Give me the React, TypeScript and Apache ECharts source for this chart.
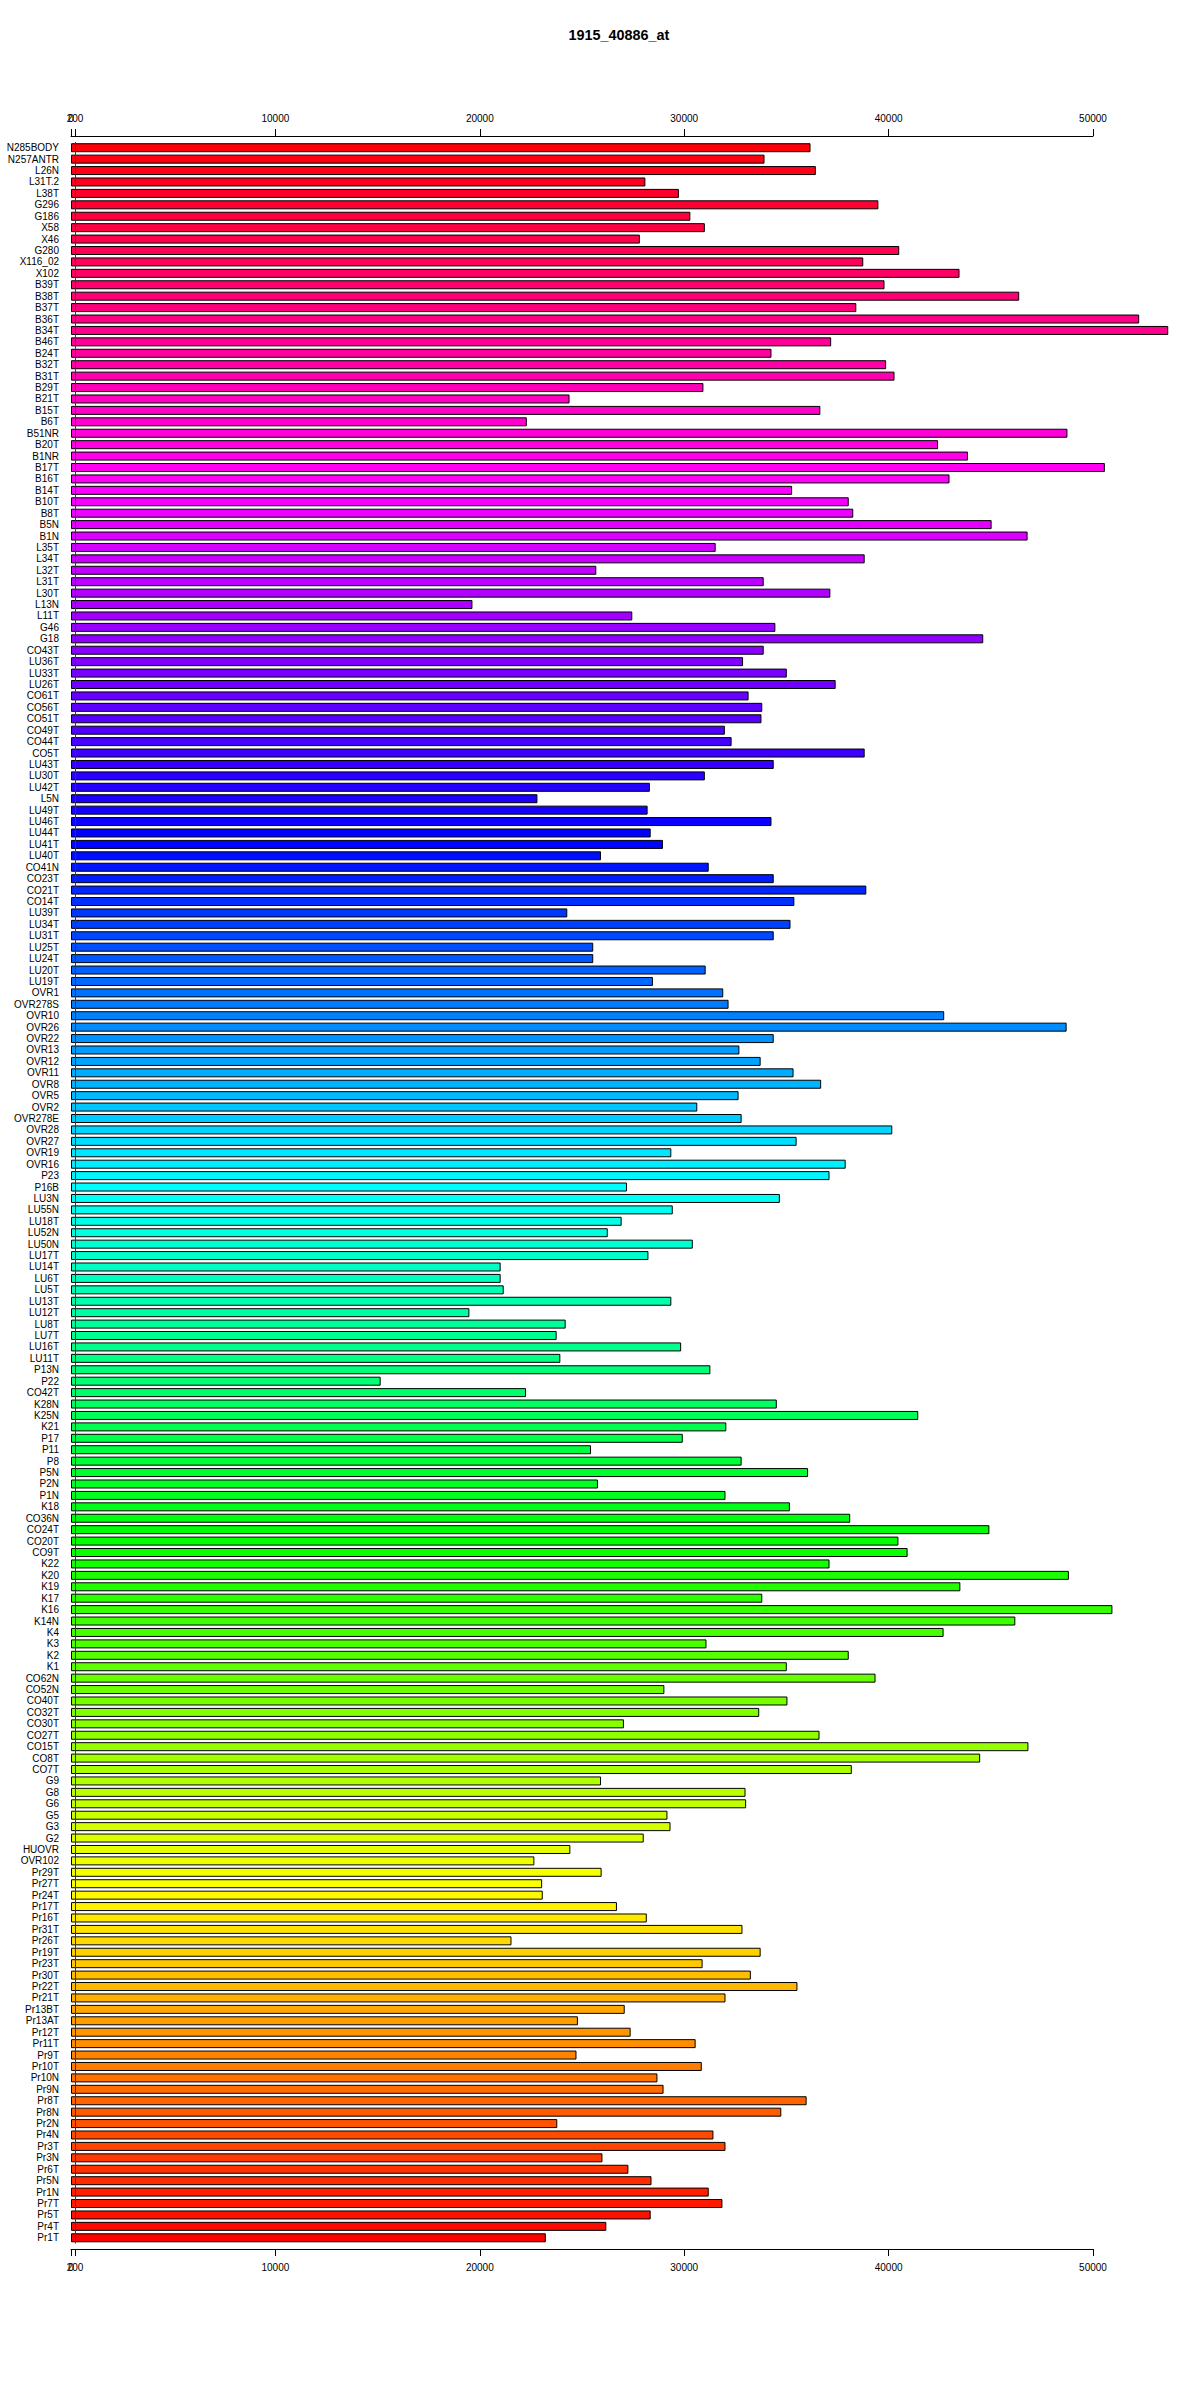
import React, { useEffect, useRef } from "react";
import * as echarts from "echarts";

const chartTitle = "1915_40886_at";

const categories = [
  "N285BODY", "N257ANTR", "L26N", "L31T.2", "L38T", "G296", "G186", "X58", "X46", "G280",
  "X116_02", "X102", "B39T", "B38T", "B37T", "B36T", "B34T", "B46T", "B24T", "B32T",
  "B31T", "B29T", "B21T", "B15T", "B6T", "B51NR", "B20T", "B1NR", "B17T", "B16T",
  "B14T", "B10T", "B8T", "B5N", "B1N", "L35T", "L34T", "L32T", "L31T", "L30T",
  "L13N", "L11T", "G46", "G18", "CO43T", "LU36T", "LU33T", "LU26T", "CO61T", "CO56T",
  "CO51T", "CO49T", "CO44T", "CO5T", "LU43T", "LU30T", "LU42T", "L5N", "LU49T", "LU46T",
  "LU44T", "LU41T", "LU40T", "CO41N", "CO23T", "CO21T", "CO14T", "LU39T", "LU34T", "LU31T",
  "LU25T", "LU24T", "LU20T", "LU19T", "OVR1", "OVR278S", "OVR10", "OVR26", "OVR22", "OVR13",
  "OVR12", "OVR11", "OVR8", "OVR5", "OVR2", "OVR278E", "OVR28", "OVR27", "OVR19", "OVR16",
  "P23", "P16B", "LU3N", "LU55N", "LU18T", "LU52N", "LU50N", "LU17T", "LU14T", "LU6T",
  "LU5T", "LU13T", "LU12T", "LU8T", "LU7T", "LU16T", "LU11T", "P13N", "P22", "CO42T",
  "K28N", "K25N", "K21", "P17", "P11", "P8", "P5N", "P2N", "P1N", "K18",
  "CO36N", "CO24T", "CO20T", "CO9T", "K22", "K20", "K19", "K17", "K16", "K14N",
  "K4", "K3", "K2", "K1", "CO62N", "CO52N", "CO40T", "CO32T", "CO30T", "CO27T",
  "CO15T", "CO8T", "CO7T", "G9", "G8", "G6", "G5", "G3", "G2", "HUOVR",
  "OVR102", "Pr29T", "Pr27T", "Pr24T", "Pr17T", "Pr16T", "Pr31T", "Pr26T", "Pr19T", "Pr23T",
  "Pr30T", "Pr22T", "Pr21T", "Pr13BT", "Pr13AT", "Pr12T", "Pr11T", "Pr9T", "Pr10T", "Pr10N",
  "Pr9N", "Pr8T", "Pr8N", "Pr2N", "Pr4N", "Pr3T", "Pr3N", "Pr6T", "Pr5N", "Pr1N",
  "Pr7T", "Pr5T", "Pr4T", "Pr1T",
];

const values = [
  36180, 33930, 36440, 28100, 29740, 39500, 30300, 31010, 27830, 40520,
  38760, 43470, 39800, 46390, 38420, 52260, 53680, 37190, 34270, 39880,
  40290, 30940, 24390, 36660, 22300, 48750, 42420, 43880, 50580, 42980,
  35280, 38050, 38270, 45040, 46800, 31540, 38830, 25700, 33890, 37150,
  19640, 27460, 34460, 44630, 33890, 32880, 35020, 37410, 33150, 33820,
  33780, 31990, 32320, 38830, 34380, 31010, 28320, 22820, 28210, 34270,
  28360, 28960, 25930, 31200, 34380, 38910, 35390, 24280, 35200, 34380,
  25550, 25550, 31050, 28470, 31910, 32170, 42720, 48710, 34380, 32700,
  33740, 35350, 36700, 32660, 30640, 32810, 40180, 35500, 29370, 37900,
  37110, 27200, 34680, 29440, 26940, 26260, 30420, 28250, 21020, 21020,
  21170, 29370, 19490, 24200, 23760, 29850, 23940, 31280, 15150, 22260,
  34530, 41450, 32060, 29930, 25440, 32810, 36060, 25780, 32020, 35170,
  38120, 44930, 40480, 40930, 37110, 48820, 43510, 33820, 50950, 46200,
  42690, 31090, 38050, 35020, 39360, 29030, 35050, 33670, 27050, 36620,
  46840, 44480, 38200, 25930, 33000, 33030, 29180, 29330, 28020, 24430,
  22670, 25960, 23050, 23080, 26710, 28170, 32850, 21550, 33740, 30900,
  33260, 35540, 32020, 27090, 24800, 27380, 30560, 24730, 30860, 28690,
  28990, 35990, 34750, 23790, 31430, 32020, 26000, 27270, 28400, 31200,
  31870, 28360, 26190, 23230,
];

const xTickValues = [0, 10000, 20000, 30000, 40000, 50000];
const xExtraTickValues = [200];
const referenceLineValue = 200;

function hsvToHex(h: number, s: number, v: number): string {
  const i = Math.floor(h * 6);
  const f = h * 6 - i;
  const p = v * (1 - s);
  const q = v * (1 - f * s);
  const t = v * (1 - (1 - f) * s);
  let r = 0, g = 0, b = 0;
  switch (((i % 6) + 6) % 6) {
    case 0: r = v; g = t; b = p; break;
    case 1: r = q; g = v; b = p; break;
    case 2: r = p; g = v; b = t; break;
    case 3: r = p; g = q; b = v; break;
    case 4: r = t; g = p; b = v; break;
    default: r = v; g = p; b = q; break;
  }
  const hx = (x: number) => Math.round(x * 255).toString(16).padStart(2, "0");
  return "#" + hx(r) + hx(g) + hx(b);
}

export default function App() {
  const ref = useRef<HTMLDivElement>(null);

  useEffect(() => {
    if (!ref.current) return;
    const chart = echarts.init(ref.current, null, { renderer: "svg" });
    const n = categories.length;
    const colors = categories.map((_, k) => hsvToHex((n - 1 - k) / n, 1, 1));
    const font = "'Liberation Sans', Arial, Helvetica, sans-serif";

    const makeXAxis = (
      position: "top" | "bottom",
      offset: number,
      ticks: number[],
      showLine: boolean
    ) => ({
      type: "value",
      gridIndex: 0,
      position,
      offset,
      min: 0,
      max: 50000,
      interval: 10000,
      axisLine: { show: showLine, onZero: false, lineStyle: { color: "#000", width: 1 } },
      axisTick: {
        show: true,
        inside: false,
        length: 7,
        customValues: ticks,
        lineStyle: { color: "#000", width: 1 },
      },
      axisLabel: {
        show: true,
        customValues: ticks,
        fontSize: 10,
        color: "#000",
        fontFamily: font,
        margin: 13,
        hideOverlap: false,
        showMinLabel: true,
        showMaxLabel: true,
        formatter: (v: number) => String(v),
      },
      splitLine: { show: false },
    });

    chart.setOption({
      animation: false,
      backgroundColor: "#fff",
      title: {
        text: chartTitle,
        left: 614,
        top: 23,
        textAlign: "center",
        textStyle: { fontSize: 14.4, fontWeight: "bold", color: "#000", fontFamily: font },
      },
      grid: {
        left: 71,
        right: 107,
        top: 142,
        bottom: 156.5,
        outerBoundsMode: "none",
        containLabel: false,
      },
      xAxis: [
        makeXAxis("top", 6, xTickValues, true),
        makeXAxis("bottom", 5.5, xTickValues, true),
        makeXAxis("top", 6, xExtraTickValues, false),
        makeXAxis("bottom", 5.5, xExtraTickValues, false),
      ],
      yAxis: {
        type: "category",
        data: categories,
        inverse: true,
        axisLine: { show: false },
        axisTick: { show: false },
        splitLine: { show: false },
        axisLabel: {
          interval: 0,
          fontSize: 10,
          color: "#000",
          fontFamily: font,
          margin: 12,
        },
      },
      series: [
        {
          type: "bar",
          xAxisIndex: 0,
          data: values,
          barWidth: 9,
          clip: false,
          itemStyle: {
            color: (p: any) => colors[p.dataIndex],
            borderColor: "#000",
            borderWidth: 1,
          },
          emphasis: { disabled: true },
          markLine: {
            silent: true,
            symbol: "none",
            label: { show: false },
            lineStyle: { color: "#1f1fff", width: 1, type: "solid" },
            data: [{ xAxis: referenceLineValue }],
          },
        },
      ],
    });

    return () => {
      chart.dispose();
    };
  }, []);

  return (
    <div
      ref={ref}
      style={{ position: "absolute", left: 0, top: 0, width: 1200, height: 2400, background: "#fff" }}
    />
  );
}
